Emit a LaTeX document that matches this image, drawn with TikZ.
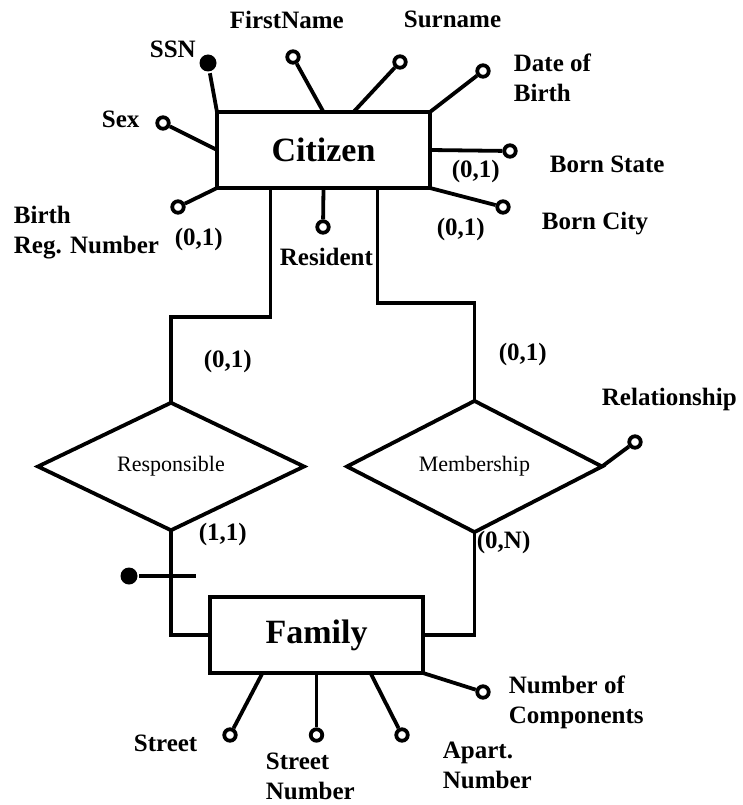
\documentclass[tikz,border=0pt]{standalone}
\usepackage{fontspec}
\setmainfont{Liberation Serif}
\usetikzlibrary{calc,shapes.geometric}

\begin{document}
\begin{tikzpicture}[x=1pt,y=-1pt,line width=3.8pt,
  entity/.style={draw,rectangle,minimum width=213pt,minimum height=76pt,outer sep=0pt,font=\fontsize{34}{40}\selectfont\bfseries},
  relation/.style={draw,diamond,inner sep=0pt,outer sep=0pt,font=\fontsize{22}{26}\selectfont},
  attr/.style={draw,circle,fill=white,inner sep=0pt,minimum size=11.5pt},
  keyattr/.style={fill,circle,inner sep=0pt,minimum size=17pt},
  lbl/.style={inner sep=0pt,anchor=base west,align=left,font=\fontsize{25}{30}\selectfont\bfseries}]
\useasboundingbox (0,0) rectangle (743,805);

\node[entity] (cit) at (323.5,150) {Citizen};
\node[entity] (fam) at (316.5,635) {Family};
\node[relation,minimum width=266pt,minimum height=113pt] (resp) at (171,466.5) {Responsible};
\node[relation,minimum width=255pt,minimum height=127pt] (memb) at (474.5,466.5) {Membership};

\node[keyattr] (ssn) at (208,63) {};
\node[attr] (fname) at (293,57) {};
\node[attr] (sname) at (400,62) {};
\node[attr] (dob) at (483,71) {};
\node[attr] (bstate) at (510,151) {};
\node[attr] (bcity) at (503,207) {};
\node[attr] (sex) at (163,123) {};
\node[attr] (breg) at (178,207) {};
\node[attr] (res) at (323,227) {};
\node[attr] (rel) at (635,442) {};
\node[attr] (street) at (230,735) {};
\node[attr] (stnum) at (316.5,735) {};
\node[attr] (apnum) at (402,735) {};
\node[attr] (ncomp) at (483,692) {};
\node[keyattr] (famid) at (129,576) {};
\coordinate (famidend) at (196,576);

\coordinate (csn) at ($(cit.north)+(30,0)$);
\coordinate (cresp) at ($(cit.south)+(-53,0)$);
\coordinate (cmemb) at ($(cit.south)+(54,0)$);
\coordinate (fst) at ($(fam.south)+(-54,0)$);
\coordinate (fap) at ($(fam.south)+(54,0)$);

\foreach \a/\b in {cit.north west/ssn, cit.north/fname, csn/sname, cit.north east/dob,
  cit.east/bstate, cit.south east/bcity, cit.west/sex, cit.south west/breg, cit.south/res,
  memb.east/rel, fst/street, fam.south/stnum, fap/apnum, fam.south east/ncomp}
\draw (\a) -- (\b);
\draw (cresp) -- ++(0,129) -| (resp.north);
\draw (cmemb) -- ++(0,115) -| (memb.north);
\draw (resp.south) |- (fam.west);
\draw (memb.south) |- (fam.east);
\draw (famid) -- (famidend);

\node[lbl] (lssn) at (148,58) {SSN};
\node[lbl] (lfname) at (228,29) {FirstName};
\node[lbl] (lsname) at (402,28) {Surname};
\node[lbl] (ldob) at (512,102) {Date of\\Birth};
\node[lbl] (lbstate) at (548,173) {Born State};
\node[lbl] (lbcity) at (540,229) {Born City};
\node[lbl] (lsex) at (100,128) {Sex};
\node[lbl] (lbreg) at (12,253) {Birth\\Reg. Number};
\node[lbl] (lres) at (278,265) {Resident};
\node[lbl] (lrel) at (600,405) {Relationship};
\node[lbl] (lstreet) at (132,751) {Street};
\node[lbl] (lstnum) at (264,799) {Street\\Number};
\node[lbl] (lapnum) at (441,788) {Apart.\\Number};
\node[lbl] (lncomp) at (507,723) {Number of\\Components};

\node[lbl] (kbstate) at (450,178) {(0,1)};
\node[lbl] (kbcity) at (435,235) {(0,1)};
\node[lbl] (kbreg) at (173,245) {(0,1)};
\node[lbl] (kcresp) at (202,367) {(0,1)};
\node[lbl] (kfresp) at (197,540) {(1,1)};
\node[lbl] (kcmemb) at (497,360) {(0,1)};
\node[lbl] (kfmemb) at (475,548) {(0,N)};
\end{tikzpicture}
\end{document}
